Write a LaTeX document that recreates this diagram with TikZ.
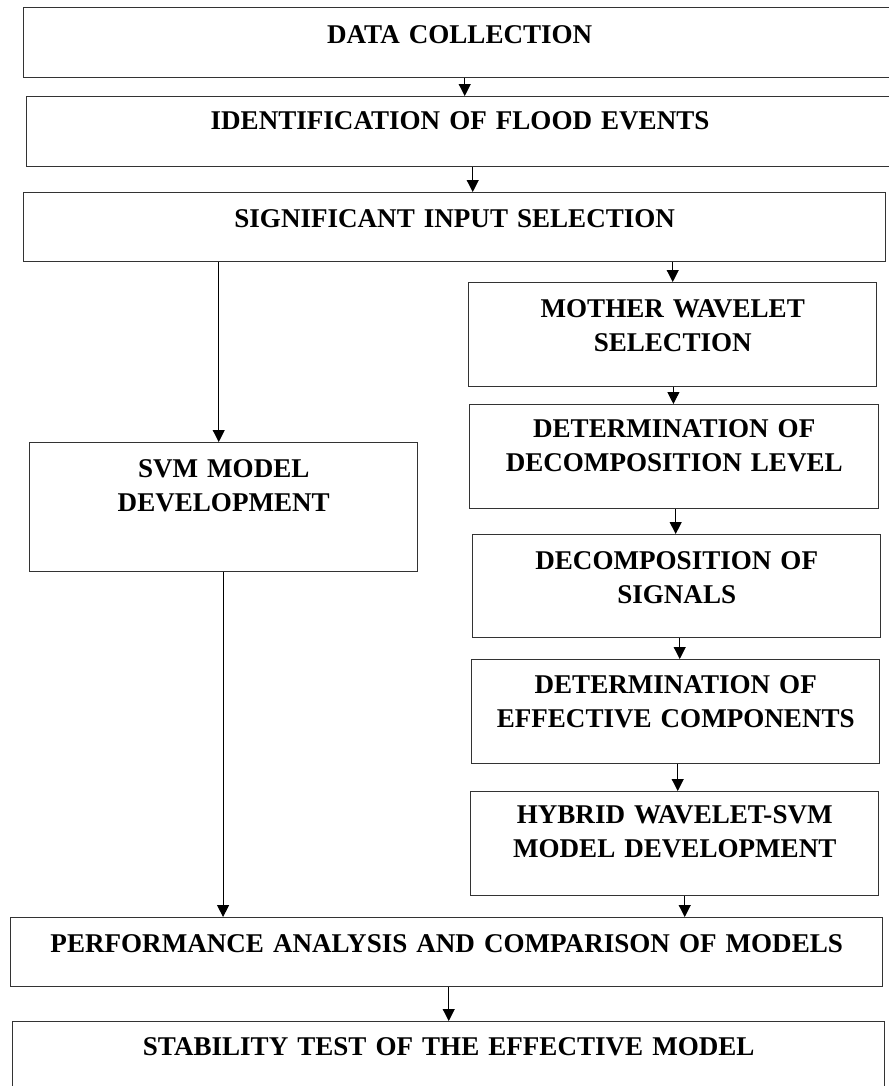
\documentclass[tikz,border=0pt]{standalone}
\usepackage{fontspec}
\setmainfont{Liberation Serif}
\usetikzlibrary{arrows.meta}
\tikzset{
  box/.style={draw=black!80, line width=1.1pt, inner sep=0pt, anchor=north west,
    align=center, font=\bfseries\fontsize{20.3}{25.4}\selectfont},
  arr/.style={draw=black, line width=0.8pt, -{Triangle[length=9pt,width=9pt]}}
}
\begin{document}
\begin{tikzpicture}[x=0.75pt,y=-0.75pt]
\useasboundingbox (0,0) rectangle (889,1086);
\clip (0,0) rectangle (889,1086);
\fill[white] (0,0) rectangle (889,1086);
\node[box, text width=654pt, text height=26.6pt, text depth=25.9pt] (data) at (23,7) {DATA COLLECTION};
\node[box, text width=650pt, text height=24.75pt, text depth=27.75pt] (ident) at (26,96) {IDENTIFICATION OF FLOOD EVENTS};
\node[box, text width=646.5pt, text height=26.25pt, text depth=25.5pt] (sig) at (23,192) {SIGNIFICANT INPUT SELECTION};
\node[box, text width=306pt, text height=26.25pt, text depth=51.75pt] (mother) at (468,282) {MOTHER WAVELET\\SELECTION};
\node[box, text width=306.75pt, text height=24.75pt, text depth=53.25pt] (detlev) at (469,404) {DETERMINATION OF\\DECOMPOSITION LEVEL};
\node[box, text width=291pt, text height=26.25pt, text depth=70.5pt] (svm) at (29,442) {SVM MODEL\\DEVELOPMENT};
\node[box, text width=306pt, text height=26.25pt, text depth=51pt] (decomp) at (472,534) {DECOMPOSITION OF\\SIGNALS};
\node[box, text width=306pt, text height=25.5pt, text depth=52.5pt] (effect) at (471,659) {DETERMINATION OF\\EFFECTIVE COMPONENTS};
\node[box, text width=306pt, text height=23.6pt, text depth=54.4pt] (hybrid) at (470,791) {HYBRID WAVELET-SVM\\MODEL DEVELOPMENT};
\node[box, text width=654pt, text height=26.25pt, text depth=25.5pt] (perf) at (10,917) {PERFORMANCE ANALYSIS AND COMPARISON OF MODELS};
\node[box, text width=654pt, text height=25.5pt, text depth=30pt] (stab) at (12,1021) {STABILITY TEST OF THE EFFECTIVE MODEL};
% connectors
\draw[arr] ([xshift=3.75pt]data.south) -- ([xshift=3.75pt]data.south |- ident.north);
\draw[arr] ([xshift=13.5pt]sig.north |- ident.south) -- ([xshift=13.5pt]sig.north);
\draw[arr] ([xshift=-177pt]sig.south) -- ([xshift=-177pt]sig.south |- svm.north);
\draw[arr] (mother.north |- sig.south) -- (mother.north);
\draw[arr] ([xshift=0.5pt]mother.south) -- ([xshift=0.5pt]mother.south |- detlev.north);
\draw[arr] ([xshift=1.1pt]detlev.south) -- ([xshift=1.1pt]detlev.south |- decomp.north);
\draw[arr] ([xshift=2.25pt]decomp.south) -- ([xshift=2.25pt]decomp.south |- effect.north);
\draw[arr] ([xshift=1.5pt]effect.south) -- ([xshift=1.5pt]effect.south |- hybrid.north);
\draw[arr] ([xshift=7.5pt]hybrid.south) -- ([xshift=7.5pt]hybrid.south |- perf.north);
\draw[arr] ([xshift=-0.5pt]svm.south) -- ([xshift=-0.5pt]svm.south |- perf.north);
\draw[arr] ([xshift=1.5pt]perf.south) -- ([xshift=1.5pt]perf.south |- stab.north);
\end{tikzpicture}
\end{document}
